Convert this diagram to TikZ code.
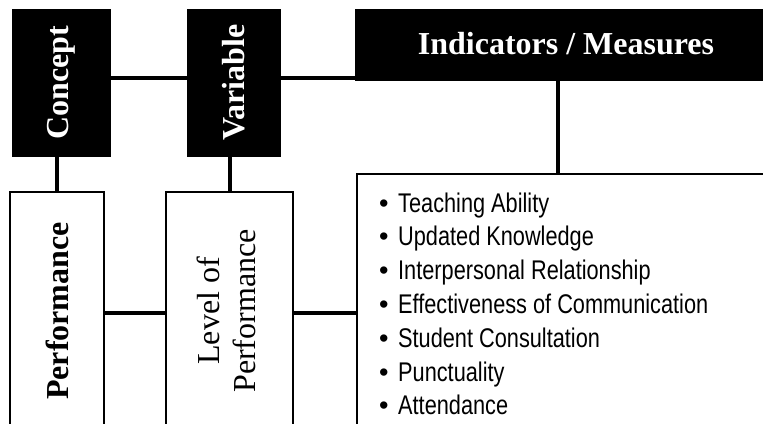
\documentclass[tikz,border=0pt]{standalone}
\usepackage{fontspec}
\setmainfont{Liberation Serif}
\newfontfamily\plainsans{Liberation Sans}
\newfontfamily\narrowsans[FakeStretch=0.805]{Liberation Sans}
\usetikzlibrary{positioning}

\tikzset{
  headbox/.style={rectangle, fill=black, draw=black, line width=1pt,
    inner sep=0pt, text=white,
    font=\fontsize{32}{40}\selectfont\bfseries},
  bodybox/.style={rectangle, fill=white, draw=black, line width=2pt,
    inner sep=0pt, font=\fontsize{32}{40}\selectfont},
  link/.style={line width=4pt, draw=black},
  itemtext/.style={anchor=base west, inner sep=0pt,
    font=\narrowsans\fontsize{27}{34}\selectfont}
}
\newcommand{\itembullet}{\makebox[19pt][l]{\plainsans\textbullet}}

\begin{document}
\begin{tikzpicture}[x=1pt, y=-1pt]
  \useasboundingbox (0,0) rectangle (763,423);
  \clip (0,0) rectangle (763,423);

  % top row: black heading boxes
  \node[headbox, minimum width=98pt, minimum height=147pt] (concept) at (61,82.5)
    {\rotatebox{90}{Concept}};
  \node[headbox, minimum width=93pt, minimum height=147pt] (variable) at (233.5,82.5)
    {\rotatebox{90}{Variable}};
  \node[headbox, minimum width=425pt, minimum height=71pt] (indicators) at (567.5,44.5) {};
  \node[text=white, inner sep=0pt, font=\fontsize{32}{40}\selectfont\bfseries]
    (indtitle) at (566,44) {Indicators / Measures};

  % bottom row: white content boxes
  \node[bodybox, minimum width=94pt, minimum height=238pt] (perf) at (57,311)
    {\rotatebox{90}{\bfseries Performance}};
  \node[bodybox, minimum width=127pt, minimum height=238pt] (level) at (229.5,311)
    {\rotatebox{90}{\begin{tabular}{@{}c@{}}Level of\\[-4pt]Performance\end{tabular}}};
  \node[bodybox, minimum width=423pt, minimum height=266pt] (list) at (568.5,307) {};

  % indicator list
  \foreach \txt [count=\i from 0] in {Teaching Ability, Updated Knowledge,
      Interpersonal Relationship, Effectiveness of Communication,
      Student Consultation, Punctuality, Attendance} {
    \node[itemtext] (item\i) at (379,212+33.8*\i) {\itembullet\txt};
  }

  % connectors along the top row
  \coordinate (c1) at (concept.east |- 0,78);
  \coordinate (v1) at (variable.west |- 0,78);
  \coordinate (v2) at (variable.east |- 0,78);
  \coordinate (i1) at (indicators.west |- 0,78);
  \draw[link] (c1) -- (v1);
  \draw[link] (v2) -- (i1);

  % connectors from the top row down
  \draw[link] (perf.north) -- (perf.north |- concept.south);
  \draw[link] (level.north) -- (level.north |- variable.south);
  \coordinate (ind) at (558,0);
  \draw[link] (ind |- indicators.south) -- (ind |- list.north);

  % connectors along the bottom row
  \coordinate (p1) at (perf.east |- 0,313);
  \coordinate (l1) at (level.west |- 0,313);
  \coordinate (l2) at (level.east |- 0,313);
  \coordinate (s1) at (list.west |- 0,313);
  \draw[link] (p1) -- (l1);
  \draw[link] (l2) -- (s1);
\end{tikzpicture}
\end{document}
